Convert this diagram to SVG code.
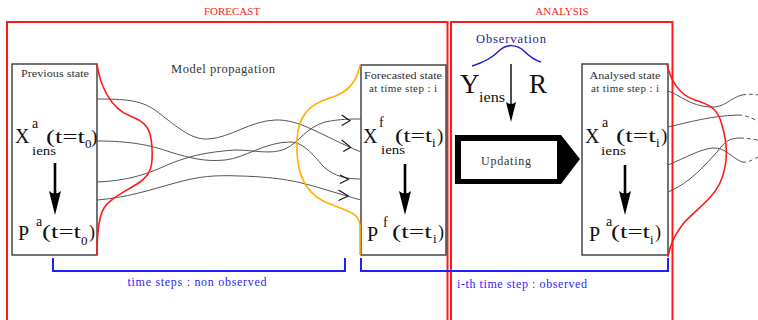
<svg xmlns="http://www.w3.org/2000/svg" width="758" height="320" viewBox="0 0 758 320">
<style>
text{font-family:"Liberation Serif","DejaVu Serif",serif;}
.frame{fill:none;stroke:#ff1a1a;stroke-width:2;}
.ttl{font-size:11px;fill:#ff1a1a;text-anchor:middle;}
.box{fill:#fff;stroke:#3a3a3a;stroke-width:1.4;}
.lbl{font-size:11px;fill:#333;text-anchor:middle;}
.big{font-size:20px;fill:#111;}
.par{font-size:19px;fill:#111;}
.par2{font-size:18px;fill:#111;}
.sup{font-size:14px;fill:#111;}
.sub{font-size:13px;fill:#111;}
.traj{fill:none;stroke:#555;stroke-width:1;}
.dash{fill:none;stroke:#555;stroke-width:1;stroke-dasharray:4,3;}
.chev{fill:none;stroke:#111;stroke-width:1.1;}
.brk{fill:none;stroke:#1f1fff;stroke-width:2;}
.btxt{font-size:12px;fill:#1f1fff;}
.shaft{stroke:#000;stroke-width:2.6;}
</style>
<defs>
<path id="ah" d="M-6,-24 L0,0 L6,-24 Q0,-19 -6,-24 Z" fill="#000"/>
</defs>

<g id="frames">
<path class="frame" d="M7,330 V22 H447.5 V330"/>
<path class="frame" d="M451,330 V22 H672.5 V330"/>
<text class="ttl" x="232" y="15">FORECAST</text>
<text class="ttl" x="562" y="15">ANALYSIS</text>
</g>

<g id="previous-state">
<rect class="box" x="12" y="64" width="85" height="191"/>
<text class="lbl" x="55" y="77" textLength="68" lengthAdjust="spacingAndGlyphs">Previous state</text>
<text class="big" x="15" y="143">X</text>
<text class="sup" x="32" y="128">a</text>
<text class="sub" x="32" y="155" textLength="24" lengthAdjust="spacingAndGlyphs">iens</text>
<text class="par" x="46" y="143" textLength="39" lengthAdjust="spacingAndGlyphs">(t=t</text>
<text class="sub" x="85" y="148">0</text>
<text class="par" x="91" y="143">)</text>
<line class="shaft" x1="55" y1="163" x2="55" y2="200"/>
<use href="#ah" x="55" y="215"/>
<text class="big" x="18" y="240">P</text>
<text class="sup" x="36" y="226">a</text>
<text class="par2" x="42" y="238" textLength="39" lengthAdjust="spacingAndGlyphs">(t=t</text>
<text class="sub" x="81" y="245">0</text>
<text class="par2" x="89" y="238">)</text>
</g>

<g id="forecasted-state">
<rect class="box" x="361" y="65" width="85" height="190"/>
<text class="lbl" x="403" y="79" textLength="78" lengthAdjust="spacingAndGlyphs">Forecasted state</text>
<text class="lbl" x="403" y="92" textLength="68">at time step : i</text>
<text class="big" x="363" y="143">X</text>
<text class="sup" x="379" y="127">f</text>
<text class="sub" x="381" y="154" textLength="24" lengthAdjust="spacingAndGlyphs">iens</text>
<text class="par" x="395" y="142" textLength="37" lengthAdjust="spacingAndGlyphs">(t=t</text>
<text class="sub" x="432" y="147">i</text>
<text class="par" x="437" y="142">)</text>
<line class="shaft" x1="405" y1="164" x2="405" y2="200"/>
<use href="#ah" x="405" y="215"/>
<text class="big" x="367" y="241">P</text>
<text class="sup" x="383" y="227">f</text>
<text class="par2" x="392" y="238" textLength="40" lengthAdjust="spacingAndGlyphs">(t=t</text>
<text class="sub" x="433" y="243">i</text>
<text class="par2" x="438" y="238">)</text>
</g>

<g id="observation">
<text x="511" y="43" textLength="70" style="font-size:12.5px;fill:#1a1a9a;text-anchor:middle">Observation</text>
<path d="M472,66 C485,62 492,58 500,50 C506,44 517,44 524,51 C530,57 534,60 541,62" fill="none" stroke="#1a1ad0" stroke-width="1.5"/>
<text x="460" y="93" style="font-size:27px;fill:#111">Y</text>
<text x="479" y="102" textLength="26" lengthAdjust="spacingAndGlyphs" style="font-size:14px;fill:#111">iens</text>
<text x="529" y="93" style="font-size:27px;fill:#111">R</text>
<line x1="511" y1="64" x2="511" y2="108" stroke="#222" stroke-width="1.6"/>
<path d="M506,102 L511,122 L516,102 Q511,106 506,102 Z" fill="#000"/>
</g>

<g id="updating">
<polygon points="455,135 561,135 580,159 561,184 455,184" fill="#000"/>
<rect x="461" y="141" width="96" height="38" fill="#fff"/>
<text x="506" y="165" textLength="50" style="font-size:12px;fill:#333;text-anchor:middle">Updating</text>
</g>

<g id="analysed-state">
<rect class="box" x="582" y="64" width="86" height="191"/>
<text class="lbl" x="625" y="79" textLength="71" lengthAdjust="spacingAndGlyphs">Analysed state</text>
<text class="lbl" x="625" y="92" textLength="68">at time step : i</text>
<text class="big" x="585" y="143">X</text>
<text class="sup" x="602" y="127">a</text>
<text class="sub" x="601" y="155" textLength="25" lengthAdjust="spacingAndGlyphs">iens</text>
<text class="par" x="616" y="142" textLength="40" lengthAdjust="spacingAndGlyphs">(t=t</text>
<text class="sub" x="656" y="147">i</text>
<text class="par" x="661" y="142">)</text>
<line class="shaft" x1="625" y1="165" x2="625" y2="200"/>
<use href="#ah" x="625" y="215"/>
<text class="big" x="589" y="241">P</text>
<text class="sup" x="606" y="226">a</text>
<text class="par2" x="611" y="238" textLength="39" lengthAdjust="spacingAndGlyphs">(t=t</text>
<text class="sub" x="650" y="244">i</text>
<text class="par2" x="655" y="238">)</text>
</g>

<g id="connectors">
<text x="223" y="73" textLength="104" style="font-size:12.5px;fill:#333;text-anchor:middle">Model propagation</text>
<path class="traj" d="M97,99 C125,99 140,100 155,110 C175,125 190,140 208,139 C230,138 250,121 275,120 C300,119 320,135 361,152"/>
<path class="traj" d="M97,141 C130,141 150,145 170,152 C190,158 205,162 225,160 C245,158 265,142 290,142 C305,142 315,158 325,168 C335,176 345,179 361,179"/>
<path class="traj" d="M97,182 C125,181 145,175 165,166 C185,157 205,152 235,150 C255,150 270,155 285,149 C300,142 305,128 325,122 C340,119 350,119 361,119"/>
<path class="traj" d="M97,200 C125,198 150,190 175,183 C200,176 215,175 240,176 C280,177 300,182 320,188 C340,194 350,197 361,200"/>
<polyline class="chev" points="341.7,140 350.7,147.3 343.3,151.5"/>
<polyline class="chev" points="341.7,115 350,120.7 341.7,125.5"/>
<polyline class="chev" points="340,175 348.5,179.3 340,183.5"/>
<polyline class="chev" points="338.5,190 348.3,196 338.5,200.5"/>
<path d="M97,64 C100,85 110,108 130,116 C146,122 151,128 152,148 C153,166 151,174 140,182 C125,192 110,198 104,208 C98,218 97,235 97,255" fill="none" stroke="#ff1a1a" stroke-width="1.6"/>
<path d="M360,65 C357,80 350,92 330,98 C310,104 298,115 297,140 C296,165 300,190 325,202 C350,212 358,212 360,225 L360,255" fill="none" stroke="#ffb000" stroke-width="1.6"/>
<path class="traj" d="M668,91 C680,95 690,106 710,107 C725,108 730,98 742,95"/>
<path class="dash" d="M742,95 C748,94 752,94 758,95"/>
<path class="traj" d="M668,127 C690,122 710,116 738,115"/>
<path class="dash" d="M738,115 C746,115 751,118 758,121"/>
<path class="traj" d="M668,165 C685,158 700,149 713,148 C725,147 732,158 742,162"/>
<path class="dash" d="M742,162 C748,163 752,160 758,157"/>
<path class="traj" d="M668,192 C690,183 705,165 717,152 C724,143 728,138 740,138"/>
<path class="dash" d="M740,138 C746,138 751,139 758,140"/>
<path d="M667,64 C670,78 678,95 695,100 C712,105 718,110 722,125 C728,145 728,165 720,183 C712,200 695,210 683,224 C674,235 670,245 668,257" fill="none" stroke="#ff1a1a" stroke-width="1.6"/>
</g>

<g id="time-steps">
<path class="brk" d="M53,258 V271 H345 V258"/>
<text class="btxt" x="197" y="286" textLength="139" text-anchor="middle">time steps : non observed</text>
<path class="brk" d="M361,258 V271 H668 V258"/>
<text class="btxt" x="457" y="288" textLength="130">i-th time step : observed</text>
</g>
</svg>
